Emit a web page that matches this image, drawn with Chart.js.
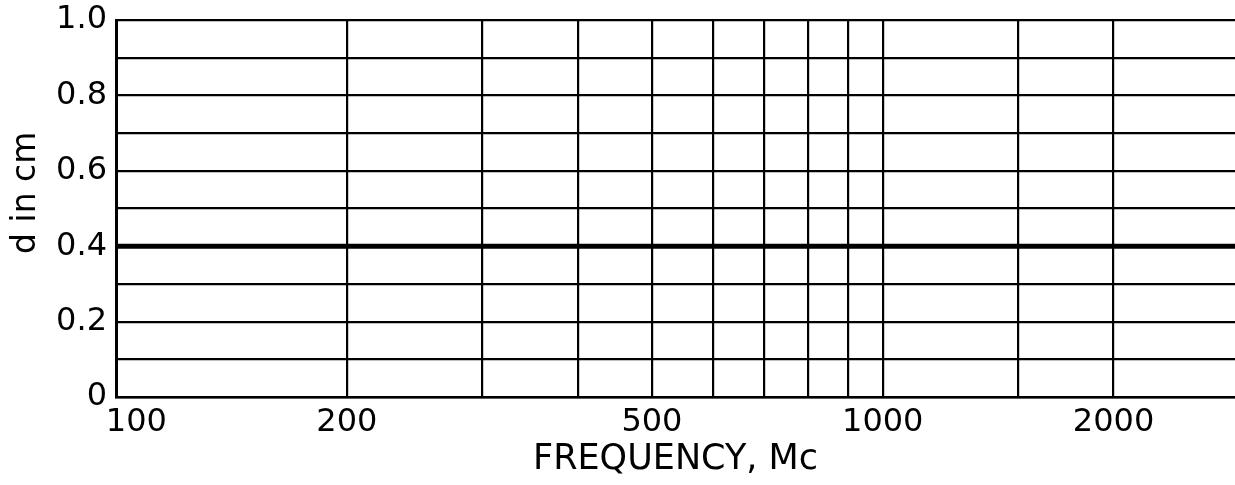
<!DOCTYPE html>
<html>
<head>
<meta charset="utf-8">
<script src="https://cdn.jsdelivr.net/npm/chart.js@4"></script>
<style>
  html, body { margin: 0; padding: 0; background: #fff; overflow: hidden; }
  #wrap { width: 1235px; height: 485px; position: relative; }
</style>
</head>
<body>
<div id="wrap"><canvas id="c"></canvas></div>
<script>
// Data
const frequencies = [100, 150, 200, 300, 500, 700, 1000, 1500, 2000, 2500, 2880];
const dValues     = [0.40, 0.40, 0.40, 0.40, 0.40, 0.40, 0.40, 0.40, 0.40, 0.40, 0.40];

// Axis ticks / labels
const xGridValues = [100, 200, 300, 400, 500, 600, 700, 800, 900, 1000, 1500, 2000];
const xLabelValues = [100, 200, 500, 1000, 2000];
const yLabelValues = [0, 0.2, 0.4, 0.6, 0.8, 1.0];
const xMin = 100, xMax = 2880;

const FONT = "'DejaVu Sans', sans-serif";

new Chart(document.getElementById('c'), {
  type: 'line',
  data: {
    datasets: [{
      data: frequencies.map((f, i) => ({ x: f, y: dValues[i] })),
      borderColor: '#000',
      borderWidth: 5,
      pointRadius: 0,
      tension: 0,
      fill: false
    }]
  },
  options: {
    responsive: true,
    maintainAspectRatio: false,
    animation: false,
    layout: { padding: { top: 20, right: 0, left: 0, bottom: 0 } },
    plugins: { legend: { display: false }, tooltip: { enabled: false } },
    scales: {
      x: {
        type: 'logarithmic',
        min: xMin,
        max: xMax,
        afterBuildTicks: (scale) => {
          scale.ticks = xGridValues.map(v => ({ value: v }));
        },
        afterFit: (scale) => { scale.height = 88; scale.paddingRight = 0; },
        ticks: {
          autoSkip: false,
          maxRotation: 0,
          minRotation: 0,
          padding: 6,
          color: '#000',
          font: { family: FONT, size: 32 },
          callback: (v) => {
            if (!xLabelValues.includes(v)) return '';
            if (v === 100) return '\u2007\u2007' + v;
            return String(v);
          }
        },
        grid: { color: '#000', lineWidth: 2.2, drawTicks: false },
        border: { color: '#000', width: 2.5 },
        title: {
          display: true,
          text: 'FREQUENCY, Mc',
          color: '#000',
          font: { family: FONT, size: 35 },
          padding: { top: 0, bottom: 4 }
        }
      },
      y: {
        min: 0,
        max: 1,
        afterBuildTicks: (scale) => {
          const t = [];
          for (let i = 0; i <= 10; i++) t.push({ value: i / 10 });
          scale.ticks = t;
        },
        afterFit: (scale) => { scale.width = 116; scale.paddingTop = 0; scale.paddingBottom = 0; },
        ticks: {
          autoSkip: false,
          padding: 9,
          color: '#000',
          font: { family: FONT, size: 32 },
          callback: (v) => {
            const r = Math.round(v * 10) / 10;
            if (!yLabelValues.some(l => Math.abs(l - r) < 1e-9)) return '';
            if (r === 0) return '0';
            return r.toFixed(1);
          }
        },
        grid: { color: '#000', lineWidth: 2.2, drawTicks: false },
        border: { color: '#000', width: 3 },
        title: {
          display: true,
          text: '   d in cm',
          color: '#000',
          font: { family: FONT, size: 33 },
          padding: { top: 7, bottom: 0 }
        }
      }
    }
  }
});
</script>
</body>
</html>
